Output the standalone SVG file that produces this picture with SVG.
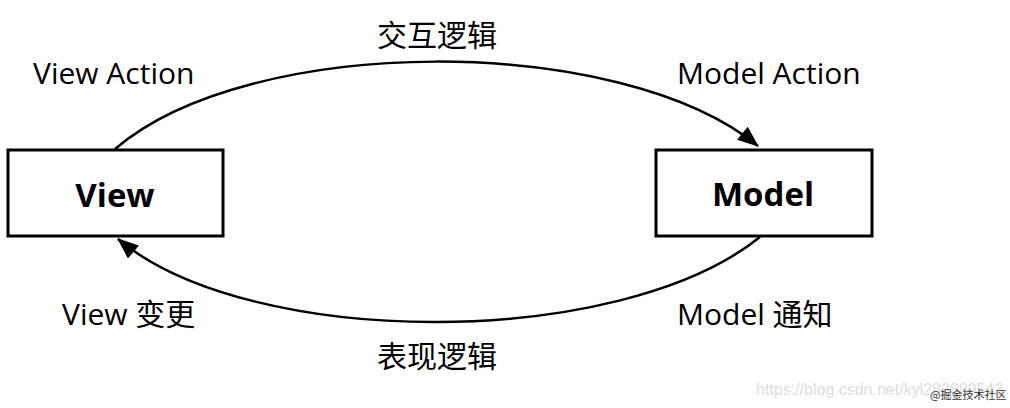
<svg xmlns="http://www.w3.org/2000/svg" width="1010" height="408" viewBox="0 0 1010 408">
<style>
.box{fill:#fff;stroke:#000;stroke-width:3}
.lbl{font-family:"Open Sans","Noto Sans CJK SC",sans-serif;font-size:30px;fill:#000}
.title{font-family:"Open Sans","Noto Sans CJK SC",sans-serif;font-size:33px;font-weight:bold;fill:#000}
.edge{fill:none;stroke:#000;stroke-width:2.5}
</style>
<defs>
<marker id="ah" viewBox="0 0 20 16" refX="19" refY="8" markerWidth="22" markerHeight="17" orient="auto" markerUnits="userSpaceOnUse">
<path d="M0,0 L20,8 L0,16 z" fill="#000"/>
</marker>
</defs>
<rect width="1010" height="408" fill="#fff"/>
<g id="connectors">
<path class="edge" d="M115,149 C250,33 620,33 758,146" marker-end="url(#ah)"/>
<path class="edge" d="M760,237 C620,350 250,350 118,239" marker-end="url(#ah)"/>
</g>
<g id="view">
<rect class="box" x="8" y="150" width="215" height="86"/>
<text class="title" x="115" y="207" text-anchor="middle">View</text>
</g>
<g id="model">
<rect class="box" x="656" y="150" width="216" height="86"/>
<text class="title" x="763" y="206" text-anchor="middle">Model</text>
</g>
<g id="labels">
<text class="lbl" x="437" y="46" text-anchor="middle">交互逻辑</text>
<text class="lbl" x="33" y="84">View Action</text>
<text class="lbl" x="677" y="84">Model Action</text>
<text class="lbl" x="62" y="325">View 变更</text>
<text class="lbl" x="677" y="325">Model 通知</text>
<text class="lbl" x="437" y="367" text-anchor="middle">表现逻辑</text>
</g>
<g id="watermark">
<text x="756" y="395" font-family="Liberation Sans,sans-serif" font-size="16" fill="#ddd">https://blog.csdn.net/kyl282889543</text>
<text x="930" y="399" font-family="Noto Sans CJK SC,sans-serif" font-size="11" fill="#333">@掘金技术社区</text>
</g>
</svg>
